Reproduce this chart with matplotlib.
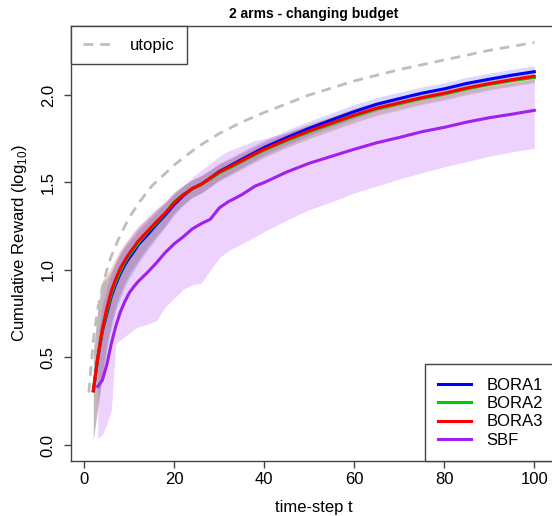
import matplotlib
matplotlib.use("Agg")
import matplotlib.pyplot as plt
import numpy as np

plt.rcParams['font.family'] = ['Liberation Sans', 'DejaVu Sans']
plt.rcParams['mathtext.fontset'] = 'custom'
plt.rcParams['mathtext.rm'] = 'Liberation Sans'

# utopic reference curve
t_utopic = [1, 2, 3, 4, 5, 6, 8, 10, 12, 15, 20, 25, 30, 35, 40, 50, 60, 70, 80, 90, 100]
utopic = [0.30, 0.60, 0.78, 0.90, 1.00, 1.08, 1.20, 1.30, 1.38, 1.48, 1.60, 1.70,
          1.78, 1.845, 1.90, 2.00, 2.08, 2.145, 2.20, 2.255, 2.30]

# BORA runs (mean curves)
t_bora = [2, 3, 4, 5, 6, 7, 8, 9, 10, 11, 12, 14, 16, 18, 20, 22, 24, 26, 28, 30,
          32, 35, 38, 40, 45, 50, 55, 60, 65, 70, 75, 80, 85, 90, 95, 100]
bora1 = [0.31, 0.50, 0.65, 0.75, 0.85, 0.92, 0.98, 1.03, 1.07, 1.105, 1.145, 1.20,
         1.26, 1.315, 1.375, 1.425, 1.465, 1.49, 1.525, 1.563, 1.59, 1.632, 1.673,
         1.70, 1.757, 1.81, 1.858, 1.905, 1.947, 1.979, 2.01, 2.035, 2.066, 2.09,
         2.113, 2.133]
bora2 = [0.31, 0.50, 0.655, 0.765, 0.865, 0.935, 0.995, 1.045, 1.085, 1.12, 1.155,
         1.215, 1.27, 1.325, 1.39, 1.43, 1.465, 1.49, 1.52, 1.555, 1.58, 1.62, 1.66,
         1.685, 1.74, 1.79, 1.835, 1.88, 1.92, 1.95, 1.98, 2.005, 2.035, 2.06, 2.082,
         2.10]
bora3 = [0.31, 0.50, 0.66, 0.78, 0.88, 0.95, 1.01, 1.055, 1.095, 1.13, 1.165, 1.22,
         1.275, 1.325, 1.385, 1.43, 1.465, 1.49, 1.525, 1.56, 1.585, 1.625, 1.665,
         1.69, 1.745, 1.795, 1.84, 1.885, 1.925, 1.955, 1.985, 2.01, 2.04, 2.065,
         2.087, 2.107]
# spread of the BORA bands below / above the mean
bora_below = [0.28, 0.28, 0.26, 0.20, 0.18, 0.15, 0.14, 0.125, 0.115, 0.11, 0.105,
              0.09, 0.08, 0.07, 0.06, 0.055, 0.05, 0.05, 0.048, 0.047, 0.046, 0.045,
              0.044, 0.043, 0.042, 0.041, 0.04, 0.04, 0.038, 0.037, 0.036, 0.035,
              0.035, 0.034, 0.034, 0.033]
bora_above = [0.22, 0.28, 0.28, 0.20, 0.14, 0.12, 0.11, 0.10, 0.09, 0.085, 0.08,
              0.075, 0.07, 0.065, 0.06, 0.055, 0.05, 0.05, 0.048, 0.047, 0.046, 0.045,
              0.044, 0.043, 0.042, 0.041, 0.04, 0.04, 0.038, 0.037, 0.036, 0.035,
              0.035, 0.034, 0.034, 0.033]

# SBF
t_sbf = [3, 4, 5, 6, 7, 8, 9, 10, 11, 12, 14, 16, 18, 20, 22, 24, 26, 28, 30, 32,
         35, 38, 40, 45, 50, 55, 60, 65, 70, 75, 80, 85, 90, 95, 100]
sbf = [0.335, 0.37, 0.46, 0.58, 0.68, 0.76, 0.82, 0.87, 0.905, 0.935, 0.985, 1.04,
       1.10, 1.15, 1.19, 1.235, 1.265, 1.29, 1.355, 1.39, 1.43, 1.48, 1.50, 1.56,
       1.61, 1.65, 1.69, 1.727, 1.757, 1.79, 1.815, 1.845, 1.87, 1.89, 1.912]
sbf_lo = [0.04, 0.06, 0.12, 0.20, 0.58, 0.60, 0.62, 0.64, 0.66, 0.675, 0.69, 0.71,
          0.79, 0.84, 0.89, 0.915, 0.925, 1.0, 1.07, 1.11, 1.15, 1.19, 1.22, 1.285,
          1.345, 1.39, 1.44, 1.48, 1.52, 1.555, 1.59, 1.62, 1.65, 1.675, 1.695]
sbf_hi = [0.60, 0.80, 0.90, 0.98, 1.05, 1.10, 1.14, 1.18, 1.22, 1.25, 1.30, 1.35,
          1.39, 1.44, 1.48, 1.53, 1.57, 1.61, 1.65, 1.68, 1.71, 1.74, 1.75, 1.785,
          1.825, 1.86, 1.895, 1.93, 1.955, 1.98, 2.0, 2.03, 2.05, 2.07, 2.09]

labels = ['BORA1', 'BORA2', 'BORA3', 'SBF']
colors = ['#0000FF', '#00CD00', '#FF0000', '#A020F0']

W, H = 552, 516
fig = plt.figure(figsize=(W / 100, H / 100), dpi=100)
ax = fig.add_axes([71 / W, 55 / H, (556 - 71) / W, (461 - 26) / H])

# bands
below = np.array(bora_below)
above = np.array(bora_above)
for y, c in zip([bora1, bora2, bora3], colors[:3]):
    y = np.array(y)
    ax.fill_between(t_bora, y - below, y + above, color=c, alpha=0.15, lw=0)
ax.fill_between(t_sbf, sbf_lo, sbf_hi, color=colors[3], alpha=0.2, lw=0)

# mean curves
lines = []
for t, y, c, lab in zip([t_bora, t_bora, t_bora, t_sbf], [bora1, bora2, bora3, sbf],
                        colors, labels):
    ln, = ax.plot(t, y, color=c, lw=2.2, label=lab, solid_joinstyle='round')
    lines.append(ln)
ut, = ax.plot(t_utopic, utopic, color='#BEBEBE', lw=2, dashes=(3.5, 2.5),
              label='utopic')

ax.set_xlim(-2.96, 104.82)
ax.set_ylim(-0.0914, 2.394)
ax.set_xticks([0, 20, 40, 60, 80, 100])
ax.set_yticks([0.0, 0.5, 1.0, 1.5, 2.0])
ax.set_yticklabels(['0.0', '0.5', '1.0', '1.5', '2.0'], rotation=90, va='center')
ax.tick_params(labelsize=12, length=5, width=1, color='#444444', direction='out')
ax.tick_params(axis='x', pad=3)
ax.tick_params(axis='y', pad=6)
for sp in ax.spines.values():
    sp.set_color('#444444')
    sp.set_linewidth(1)

ax.set_xlabel('time-step t', fontsize=12)
ax.xaxis.set_label_coords(0.5, -0.09)
ax.set_ylabel(r'Cumulative Reward (log$_{\mathregular{10}}$)', fontsize=12)
ax.yaxis.set_label_coords(-0.087, 0.5)
ax.set_title('2 arms - changing budget', fontsize=10, fontweight='bold', pad=6)

leg1 = ax.legend(handles=[ut], loc='upper left', borderaxespad=0, fancybox=False,
                 fontsize=12, handlelength=1.8, handletextpad=1.05, borderpad=0.7,
                 edgecolor='#444444', framealpha=1)
leg1.get_frame().set_linewidth(1)
ax.add_artist(leg1)
leg2 = ax.legend(handles=lines, loc='lower right', borderaxespad=0, fancybox=False,
                 fontsize=12, handlelength=2.0, handletextpad=0.9, borderpad=0.8,
                 labelspacing=0.2, edgecolor='#444444', framealpha=1)
leg2.get_frame().set_linewidth(1)

fig.savefig('out.png', dpi=100)
